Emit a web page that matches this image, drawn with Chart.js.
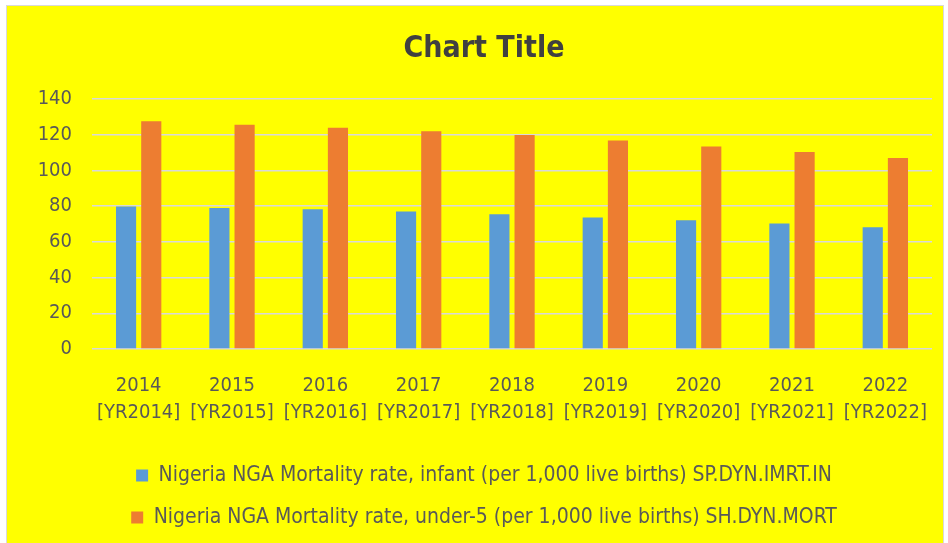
<!DOCTYPE html>
<html>
<head>
<meta charset="utf-8">
<script src="https://cdn.jsdelivr.net/npm/chart.js@4.4.1/dist/chart.umd.min.js"></script>
<style>
  html, body { margin: 0; padding: 0; background: #ffffff; }
  #wrap {
    position: absolute; left: 6px; top: 5px;
    width: 936px; height: 537px;
    background: #ffff00;
    border: 1px solid #d9d9d9;
  }
</style>
</head>
<body>
<div id="wrap"><canvas id="mortalityChart"></canvas></div>
<script>
const years = ["2014", "2015", "2016", "2017", "2018", "2019", "2020", "2021", "2022"];
const yearCodes = ["[YR2014]", "[YR2015]", "[YR2016]", "[YR2017]", "[YR2018]", "[YR2019]", "[YR2020]", "[YR2021]", "[YR2022]"];

const infantRate = [79.8, 78.9, 78.3, 77.0, 75.5, 73.6, 72.1, 70.3, 68.2];
const under5Rate = [127.5, 125.6, 123.9, 122.0, 119.8, 116.8, 113.4, 110.3, 106.9];

const infantLabel = "Nigeria NGA Mortality rate, infant (per 1,000 live births) SP.DYN.IMRT.IN";
const under5Label = "Nigeria NGA Mortality rate, under-5 (per 1,000 live births) SH.DYN.MORT";

const fontFamily = "'Liberation Sans Narrow', 'Arial Narrow', 'DejaVu Sans Condensed', sans-serif";
const colorText = "#595959", colorGrid = "#d9d9d9";

const ctx = document.getElementById("mortalityChart").getContext("2d");

new Chart(ctx, {
    type: "bar",
    data: {
        labels: years.map((y, i) => [y, yearCodes[i]]),
        datasets: [
            {
                label: infantLabel,
                data: infantRate,
                backgroundColor: "#5b9bd5",
                categoryPercentage: 0.54,
                barPercentage: 0.8,
            },
            {
                label: under5Label,
                data: under5Rate,
                backgroundColor: "#ed7d31",
                categoryPercentage: 0.54,
                barPercentage: 0.8,
            },
        ],
    },
    options: {
        responsive: true,
        maintainAspectRatio: false,
        animation: false,
        layout: { padding: { left: 29, right: 11, top: 0, bottom: 5 } },
        plugins: {
            title: {
                display: true,
                text: "Chart Title",
                color: "#404040",
                font: { family: fontFamily, size: 30, weight: "bold" },
                padding: { top: 25, bottom: 32 },
            },
            legend: {
                position: "bottom",
                labels: {
                    color: colorText,
                    font: { family: fontFamily, size: 21 },
                    boxWidth: 12,
                    boxHeight: 12,
                    padding: 21,
                },
            },
            tooltip: { enabled: false },
        },
        scales: {
            x: {
                grid: { display: false },
                border: { display: false },
                ticks: {
                    color: colorText,
                    font: { family: fontFamily, size: 20, lineHeight: 1.35 },
                    padding: 15,
                    maxRotation: 0,
                    autoSkip: false,
                },
                afterFit: (axis) => { axis.height = 95; },
            },
            y: {
                min: 0,
                max: 140,
                border: { display: false },
                grid: { color: colorGrid, lineWidth: 1.5, drawTicks: false },
                ticks: {
                    stepSize: 20,
                    color: colorText,
                    font: { family: fontFamily, size: 20 },
                    padding: 20,
                },
                afterFit: (axis) => { axis.width = 56; },
            },
        },
    },
});
</script>
</body>
</html>
